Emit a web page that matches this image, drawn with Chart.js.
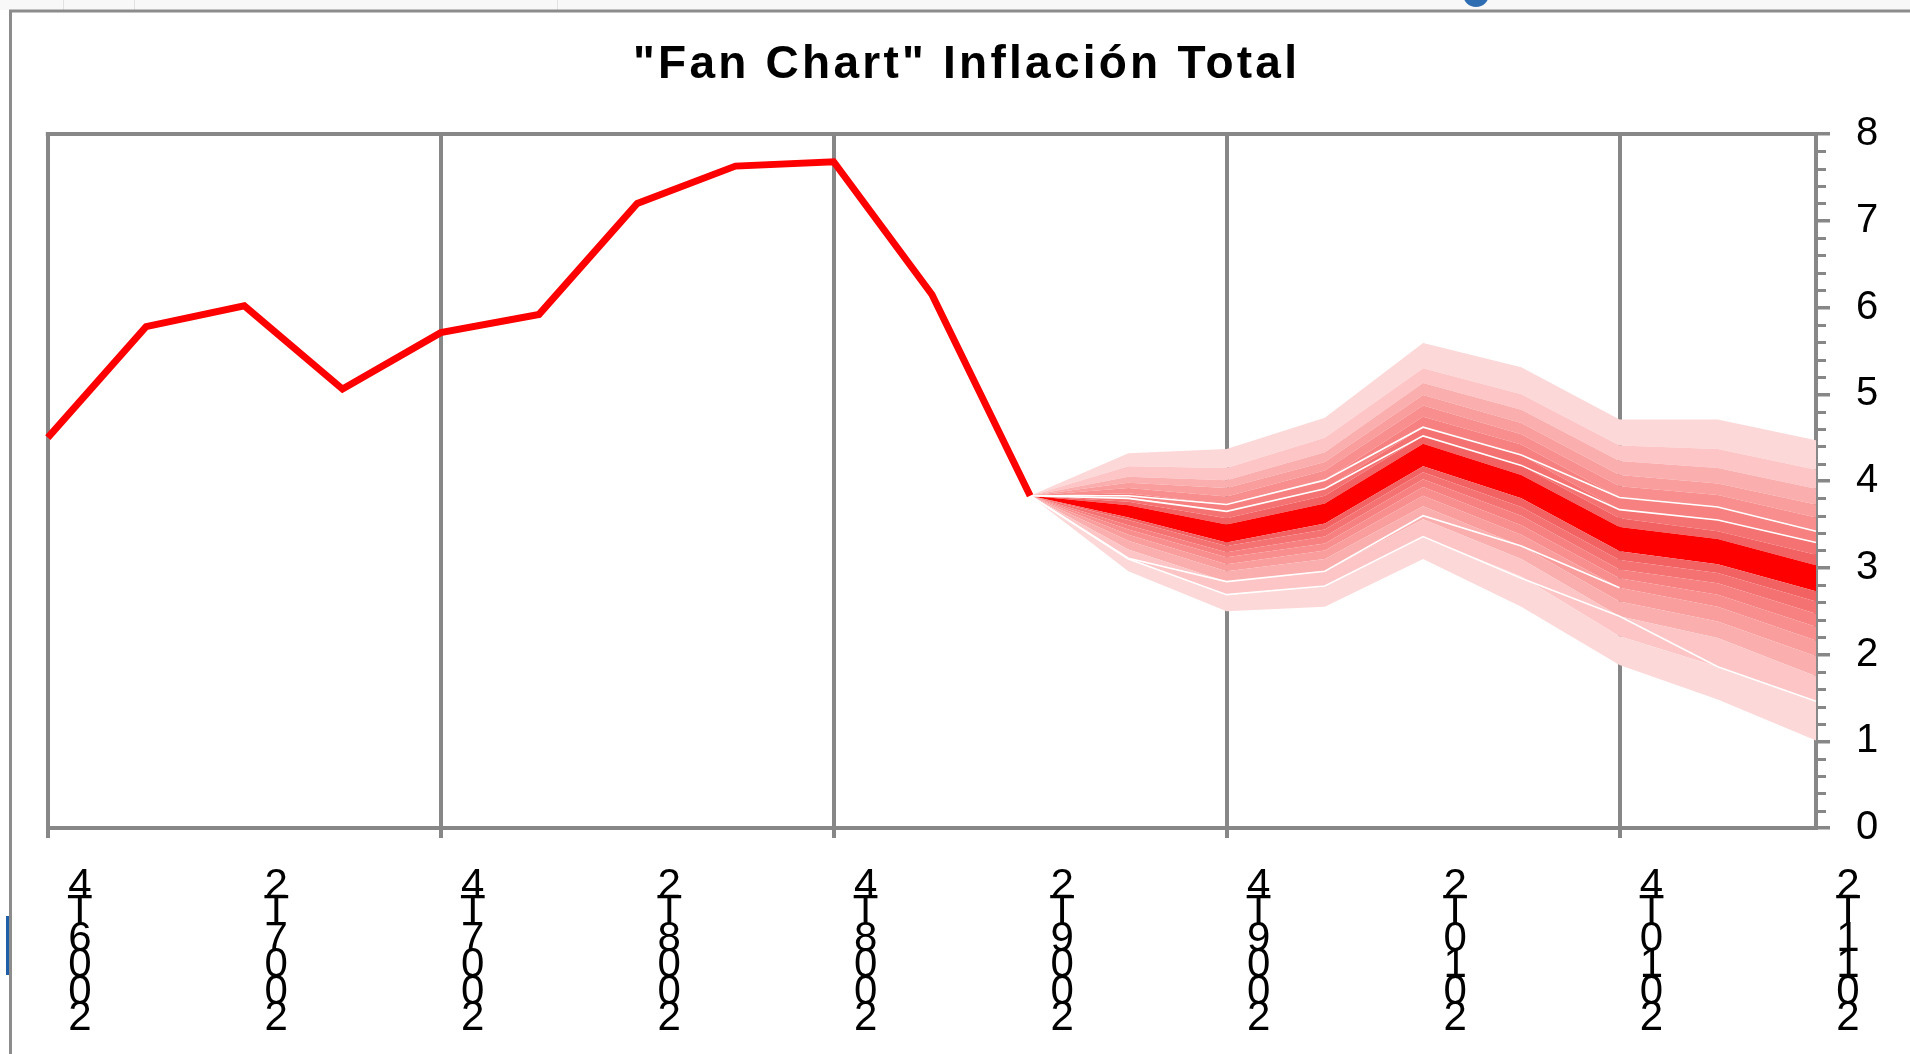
<!DOCTYPE html>
<html lang="es">
<head>
  <meta charset="UTF-8" />
  <title>Fan Chart Inflación Total</title>
  <script src="https://cdn.jsdelivr.net/npm/chart.js"></script>
  <style>
    html, body { margin: 0; padding: 0; background: #fff; overflow: hidden; }
    #wrap { width: 1910px; height: 1054px; position: relative; }
  </style>
</head>
<body>
<div id="wrap"><canvas id="fanChart"></canvas></div>

<script>
  // --- data ---
  const titleText = '"Fan Chart" Inflación Total';

  const quarters = ['2006T4', '2007T1', '2007T2', '2007T3', '2007T4', '2008T1', '2008T2', '2008T3',
                    '2008T4', '2009T1', '2009T2', '2009T3', '2009T4', '2010T1', '2010T2', '2010T3',
                    '2010T4', '2011T1', '2011T2'];

  // observed inflation (2006T4 .. 2009T2)
  const inflacion = [4.50, 5.78, 6.02, 5.06, 5.71, 5.92, 7.20, 7.63, 7.68, 6.15, 3.83];

  // forecast band edges, 2009T2 .. 2011T2 (first point = last observed)
  const fanStart = 10;
  const bandU8 = [3.83, 4.32, 4.37, 4.73, 5.59, 5.31, 4.71, 4.71, 4.47];
  const bandU7 = [3.83, 4.17, 4.15, 4.50, 5.30, 5.00, 4.41, 4.37, 4.13];
  const bandU6 = [3.83, 4.05, 4.01, 4.33, 5.13, 4.82, 4.23, 4.15, 3.91];
  const bandU5 = [3.83, 3.98, 3.92, 4.22, 4.99, 4.67, 4.07, 3.97, 3.73];
  const bandU4 = [3.83, 3.92, 3.82, 4.12, 4.87, 4.54, 3.94, 3.84, 3.58];
  const bandU3 = [3.83, 3.86, 3.73, 4.01, 4.74, 4.42, 3.81, 3.70, 3.42];
  const bandU2 = [3.83, 3.81, 3.65, 3.91, 4.62, 4.30, 3.67, 3.55, 3.29];
  const bandU1 = [3.83, 3.76, 3.57, 3.83, 4.52, 4.18, 3.57, 3.42, 3.15];
  const redTop = [3.83, 3.72, 3.50, 3.74, 4.43, 4.07, 3.47, 3.33, 3.03];
  const redBot = [3.83, 3.58, 3.29, 3.51, 4.17, 3.80, 3.19, 3.04, 2.73];
  const bandL1 = [3.83, 3.55, 3.25, 3.44, 4.10, 3.70, 3.09, 2.94, 2.61];
  const bandL2 = [3.83, 3.49, 3.18, 3.36, 4.02, 3.60, 2.98, 2.82, 2.47];
  const bandL3 = [3.83, 3.44, 3.12, 3.28, 3.93, 3.49, 2.88, 2.69, 2.32];
  const bandL4 = [3.83, 3.38, 3.04, 3.20, 3.83, 3.38, 2.77, 2.55, 2.16];
  const bandL5 = [3.83, 3.31, 2.96, 3.10, 3.71, 3.25, 2.61, 2.38, 1.98];
  const bandL6 = [3.83, 3.21, 2.84, 2.96, 3.56, 3.10, 2.44, 2.19, 1.75];
  const bandL7 = [3.83, 3.11, 2.69, 2.79, 3.36, 2.90, 2.21, 1.86, 1.46];
  const bandL8 = [3.83, 2.96, 2.50, 2.55, 3.10, 2.55, 1.88, 1.48, 1.01];

  // thin white lines crossing the fan
  const whiteA = [3.83, 3.83, 3.73, 4.01, 4.62, 4.30, 3.81, 3.70, 3.42];
  const whiteB = [3.83, 3.80, 3.65, 3.91, 4.52, 4.18, 3.67, 3.55, 3.29];
  const whiteC = [3.83, 3.11, 2.84, 2.96, 3.60, 3.25, 2.77, null, null];
  const whiteD = [3.83, 3.10, 2.69, 2.79, 3.36, 2.88, 2.44, 1.86, 1.46];

  const yTicks = [0, 1, 2, 3, 4, 5, 6, 7, 8];

  // shades from the centre outwards
  const shades = ['#f36262', '#f57272', '#f78181', '#f88e8e', '#fa9d9d', '#fbaeae', '#fdc5c5', '#fdd8d8'];
  const GRID = '#878787';

  // pad a forecast array out to the full quarter axis
  function full(arr) {
    const out = new Array(quarters.length).fill(null);
    arr.forEach((v, i) => { out[fanStart + i] = v; });
    return out;
  }

  const edges = [bandL8, bandL7, bandL6, bandL5, bandL4, bandL3, bandL2, bandL1,
                 redBot, redTop, bandU1, bandU2, bandU3, bandU4, bandU5, bandU6, bandU7, bandU8];
  // colour of the band between edge i-1 and edge i
  const bandColors = [null, shades[7], shades[6], shades[5], shades[4], shades[3], shades[2], shades[1],
                      shades[0], '#ff0000', shades[0], shades[1], shades[2], shades[3], shades[4],
                      shades[5], shades[6], shades[7]];

  const datasets = [];
  datasets.push({
    label: 'Inflación',
    data: inflacion.concat(new Array(quarters.length - inflacion.length).fill(null)),
    borderColor: '#ff0000',
    borderWidth: 7,
    pointRadius: 0,
    fill: false,
    order: 0
  });
  [whiteA, whiteB, whiteC, whiteD].forEach((w, k) => {
    datasets.push({
      label: 'w' + k,
      data: full(w),
      borderColor: '#ffffff',
      borderWidth: 1.6,
      pointRadius: 0,
      fill: false,
      order: 1
    });
  });
  edges.forEach((e, i) => {
    datasets.push({
      label: 'edge' + i,
      data: full(e),
      borderColor: 'rgba(0,0,0,0)',
      borderWidth: 0,
      pointRadius: 0,
      backgroundColor: bandColors[i] || 'rgba(0,0,0,0)',
      fill: i === 0 ? false : '-1',
      order: 2
    });
  });

  // frame, title and minor ticks
  const decor = {
    id: 'decor',
    beforeDraw(chart) {
      const c = chart.ctx;
      c.save();
      c.fillStyle = '#ffffff';
      c.fillRect(0, 0, chart.width, chart.height);
      c.fillStyle = '#f8f8f8';
      c.fillRect(0, 0, chart.width, 10);
      c.strokeStyle = '#e2e2e2';
      c.lineWidth = 1;
      [63, 134, 557].forEach(x => { c.beginPath(); c.moveTo(x + 0.5, 0); c.lineTo(x + 0.5, 10); c.stroke(); });
      c.fillStyle = '#2f6db3';
      c.beginPath(); c.arc(1476, -6, 13, 0, Math.PI * 2); c.fill();
      c.fillStyle = '#1f5fa8';
      c.fillRect(6, 916, 3, 59);
      c.strokeStyle = '#8c8c8c';
      c.lineWidth = 3;
      c.beginPath();
      c.moveTo(10.5, chart.height);
      c.lineTo(10.5, 11);
      c.lineTo(chart.width, 11);
      c.stroke();
      c.restore();
    },
    afterDraw(chart) {
      const c = chart.ctx;
      const a = chart.chartArea;
      const y = chart.scales.y;
      c.save();
      // top border of the plot area
      c.strokeStyle = GRID;
      c.lineWidth = 4;
      c.beginPath();
      c.moveTo(a.left - 2, a.top);
      c.lineTo(a.right + 2, a.top);
      c.stroke();
      // minor ticks on the value axis
      c.lineWidth = 3;
      for (let k = 1; k < 40; k++) {
        if (k % 5 === 0) continue;
        const py = Math.round(y.getPixelForValue(k / 5)) + 0.5;
        c.beginPath();
        c.moveTo(a.right, py);
        c.lineTo(a.right + 10, py);
        c.stroke();
      }
      // title
      c.fillStyle = '#000000';
      c.font = "bold 46px 'Liberation Sans Narrow', 'Liberation Sans', sans-serif";
      c.textBaseline = 'alphabetic';
      c.textAlign = 'left';
      const target = 664;
      const w0 = c.measureText(titleText).width;
      c.letterSpacing = ((target - w0) / (titleText.length - 1)).toFixed(2) + 'px';
      c.fillText(titleText, 965 - target / 2, 78);
      c.restore();
    }
  };

  new Chart(document.getElementById('fanChart'), {
    type: 'line',
    data: { labels: quarters, datasets: datasets },
    options: {
      responsive: true,
      maintainAspectRatio: false,
      animation: false,
      events: [],
      layout: { padding: { top: 134, left: 46, right: 0, bottom: 0 } },
      plugins: {
        legend: { display: false },
        tooltip: { enabled: false },
        title: { display: false }
      },
      elements: { line: { tension: 0, borderJoinStyle: 'miter' } },
      scales: {
        x: {
          type: 'category',
          offset: false,
          afterFit: (s) => { s.height = 226; },
          grid: {
            color: (c) => (c.index % 4 === 0 ? GRID : 'rgba(0,0,0,0)'),
            lineWidth: 4,
            tickLength: 10,
            drawOnChartArea: true
          },
          border: { display: true, color: GRID, width: 4 },
          ticks: {
            autoSkip: false,
            maxRotation: 0,
            minRotation: 0,
            labelOffset: 32,
            padding: 35,
            color: '#000000',
            font: { family: "'Liberation Sans Narrow', 'Liberation Sans', sans-serif", size: 42, lineHeight: 0.63 },
            callback: (v, i) => (i % 2 === 0 ? quarters[i].split('').reverse() : '')
          }
        },
        y: {
          position: 'right',
          min: 0,
          max: 8,
          afterFit: (s) => { s.width = 94; },
          afterBuildTicks: (s) => { s.ticks = yTicks.map(v => ({ value: v })); },
          grid: { drawOnChartArea: false, color: GRID, lineWidth: 3.5, tickLength: 14 },
          border: { display: true, color: GRID, width: 4 },
          ticks: {
            padding: 26,
            color: '#000000',
            font: { family: "'Liberation Sans', Arial, sans-serif", size: 40 }
          }
        }
      }
    },
    plugins: [decor]
  });
</script>
</body>
</html>
